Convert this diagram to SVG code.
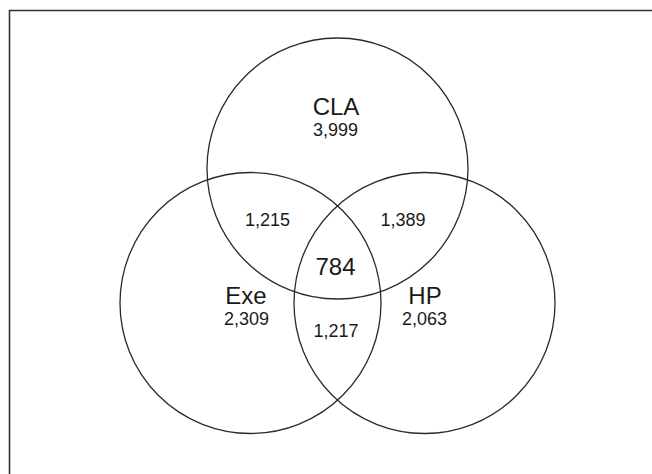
<svg xmlns="http://www.w3.org/2000/svg" width="652" height="474" viewBox="0 0 652 474">
<style>
.c{fill:none;stroke:#2a2a2a;stroke-width:1.3}
.t{font-family:"Liberation Sans",Arial,sans-serif;fill:#1a1a1a;text-anchor:middle}
.big{font-size:24px}
.num{font-size:18px}
</style>
<rect width="652" height="474" fill="#ffffff"/>
<path d="M9.5,474 V10.5 H652" fill="none" stroke="#333" stroke-width="1.6"/>
<g id="connectors"></g>
<g id="CLA">
<circle class="c" cx="337.5" cy="168.5" r="130.5"/>
<text class="t big" x="336" y="115">CLA</text>
<text class="t num" x="335.5" y="136">3,999</text>
</g>
<g id="Exe">
<circle class="c" cx="250.5" cy="303" r="130.5"/>
<text class="t big" x="246" y="304">Exe</text>
<text class="t num" x="246.5" y="325">2,309</text>
</g>
<g id="HP">
<circle class="c" cx="424.5" cy="303" r="130.5"/>
<text class="t big" x="425" y="304">HP</text>
<text class="t num" x="424.5" y="325">2,063</text>
</g>
<g id="overlaps">
<text class="t num" x="267.5" y="226">1,215</text>
<text class="t num" x="403" y="226">1,389</text>
<text class="t big" x="335.5" y="275">784</text>
<text class="t num" x="336" y="337">1,217</text>
</g>
</svg>
